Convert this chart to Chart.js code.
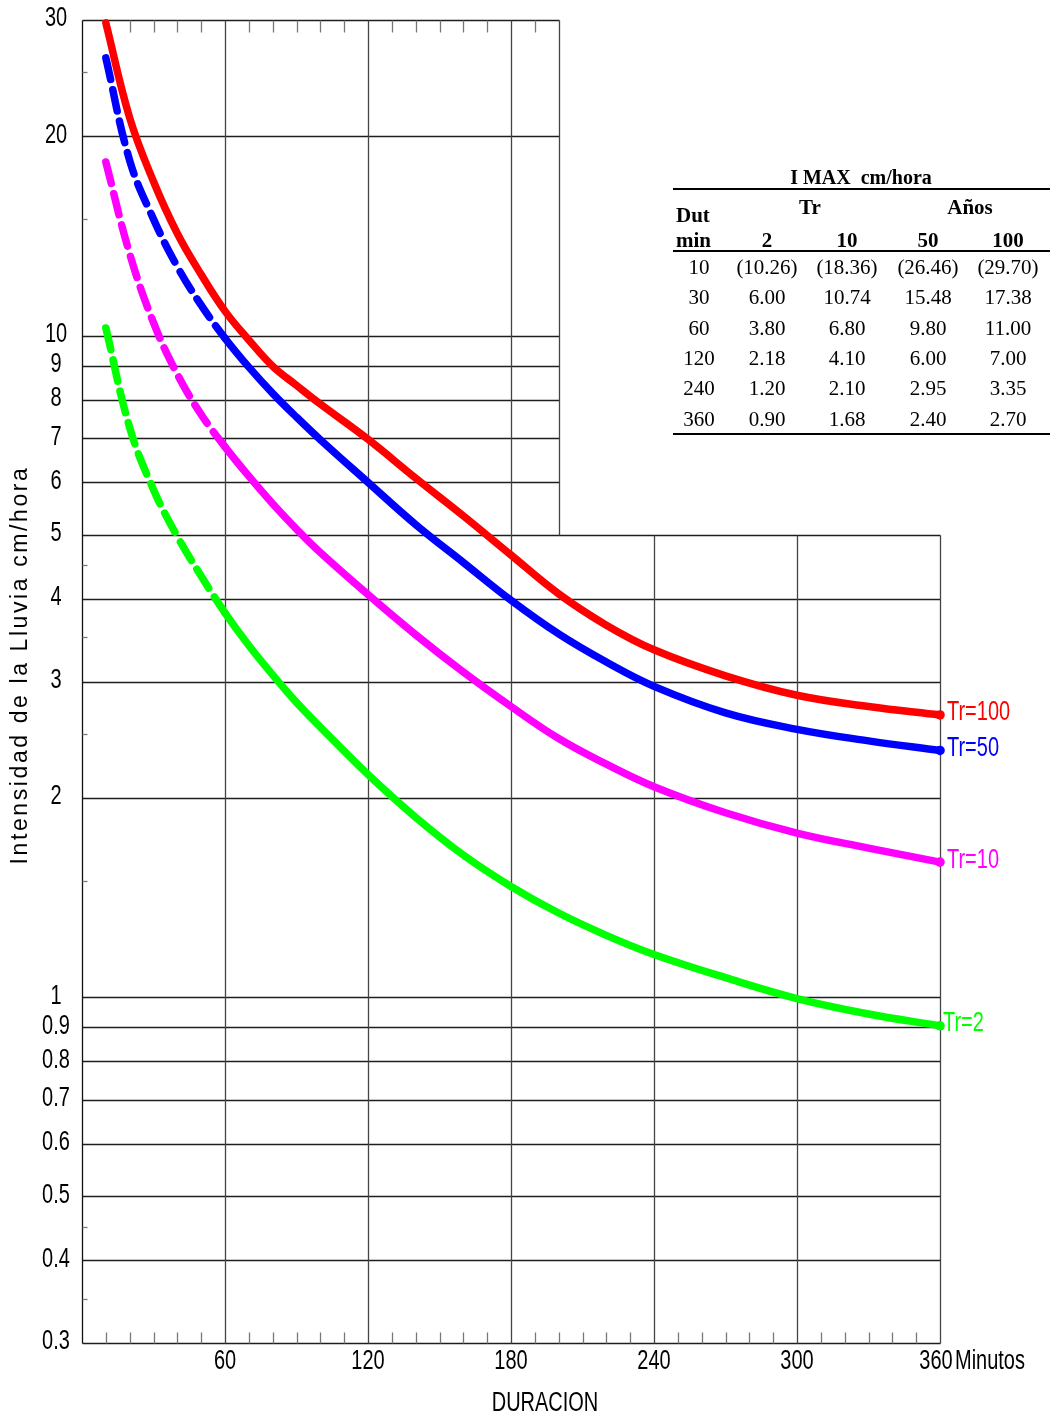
<!DOCTYPE html>
<html><head><meta charset="utf-8">
<script src="https://cdn.jsdelivr.net/npm/chart.js@4/dist/chart.umd.min.js"></script>
<style>
html,body{margin:0;padding:0;background:#fff;}
#wrap{position:relative;width:1050px;height:1418px;overflow:hidden;}
#c{position:absolute;left:0;top:0;}
.cell{position:absolute;font-family:"Liberation Serif","Times New Roman",serif;color:#000;font-size:21px;line-height:1;white-space:pre;transform:translate(-50%,-50%);}
.b{font-weight:bold;}
.left{transform:translate(0,-50%);}
.hline{position:absolute;left:673px;width:377px;height:2px;background:#000;}
</style></head>
<body><div id="wrap"><canvas id="c" width="1050" height="1418"></canvas><div id="tbl"></div></div>
<script>
// ---- data ----
const durations = [10,20,30,40,50,60,70,80,90,100,120,140,160,180,200,220,240,270,300,330,360];
const tr100 = [29.7,21.35,17.1,14.27,12.37,10.89,9.85,8.99,8.41,7.88,6.97,6.09,5.34,4.66,4.07,3.65,3.35,3.06,2.86,2.75,2.67];
const tr50  = [26.3,18.4,15.0,12.71,11.12,9.91,8.96,8.18,7.53,6.96,6.0,5.18,4.54,3.98,3.54,3.21,2.95,2.69,2.54,2.44,2.36];
const tr10  = [18.3,13.3,10.46,8.74,7.60,6.79,6.13,5.57,5.10,4.70,4.06,3.53,3.10,2.75,2.46,2.25,2.08,1.90,1.77,1.68,1.60];
const tr2   = [10.27,7.26,5.85,4.97,4.33,3.81,3.40,3.07,2.79,2.56,2.17,1.87,1.64,1.47,1.34,1.24,1.16,1.07,0.995,0.943,0.905];
const seriesLabels = ['Tr=100','Tr=50','Tr=10','Tr=2'];

const xTickValues = [0,60,120,180,240,300,360];
const xTickLabels = ['','60','120','180','240','300','360'];
const xMinorTicks = [10,20,30,40,50,70,80,90,100,110,130,140,150,160,170,190,200,210,220,230,250,260,270,280,290,310,320,330,340,350];
const yTickValues = [0.3,0.4,0.5,0.6,0.7,0.8,0.9,1,2,3,4,5,6,7,8,9,10,20,30];
const yTickLabels = ['0.3','0.4','0.5','0.6','0.7','0.8','0.9','1','2','3','4','5','6','7','8','9','10','20','30'];
const yMinorTicks = [0.35,0.45,1.5,2.5,3.5,4.5,15,25];
const dashedUpTo = 60;

// table
const tableTitle = 'I MAX  cm/hora';
const tableHeadTop = ['Tr','Años'];
const tableHeadDur = ['Dut','min'];
const tableHeadTr = ['2','10','50','100'];
const tableDur = ['10','30','60','120','240','360'];
const tableTr2 = ['(10.26)','6.00','3.80','2.18','1.20','0.90'];
const tableTr10 = ['(18.36)','10.74','6.80','4.10','2.10','1.68'];
const tableTr50 = ['(26.46)','15.48','9.80','6.00','2.95','2.40'];
const tableTr100 = ['(29.70)','17.38','11.00','7.00','3.35','2.70'];

// ---- table DOM ----
(function(){
  const t = document.getElementById('tbl');
  function cell(txt, x, y, cls, size){
    const d = document.createElement('div');
    d.className = 'cell ' + (cls||'');
    d.textContent = txt; d.style.left = x+'px'; d.style.top = y+'px';
    if (size) d.style.fontSize = size+'px';
    t.appendChild(d);
  }
  function hl(y){ const d=document.createElement('div'); d.className='hline'; d.style.top=y+'px'; t.appendChild(d); }
  const colX = [699,767,847,928,1008];
  cell(tableTitle, 861, 177, 'b', 20);
  hl(188);
  cell(tableHeadTop[0], 810, 207, 'b');
  cell(tableHeadTop[1], 970, 207, 'b');
  cell(tableHeadDur[0], 676, 215, 'b left');
  cell(tableHeadDur[1], 676, 240, 'b left');
  tableHeadTr.forEach((s,i)=>cell(s, colX[i+1], 240, 'b'));
  hl(250);
  const cols = [tableDur, tableTr2, tableTr10, tableTr50, tableTr100];
  for (let r=0;r<tableDur.length;r++){
    const y = 267 + r*30.3;
    cols.forEach((c,i)=>cell(c[r], colX[i], y));
  }
  hl(433);
})();

// ---- chart ----
const SANS = '"Liberation Sans", Arial, sans-serif';
const NARROW_SCALE = 0.74;
const colors = ['#ff0000','#0000ff','#ff00ff','#00ff00'];
const seriesData = [tr100, tr50, tr10, tr2];

function narrowText(c, txt, x, y, align, color, size){
  c.save();
  c.translate(x, y);
  c.scale(NARROW_SCALE, 1);
  c.font = (size||27) + 'px ' + SANS;
  c.fillStyle = color || '#000';
  c.textAlign = align || 'center';
  c.textBaseline = 'middle';
  c.fillText(txt, 0, 0);
  c.restore();
}

function mkDataset(vals, i){
  const pts = durations.map((d,k)=>({x:d, y:vals[k]}));
  const dashed = i !== 0;
  return {
    label: seriesLabels[i],
    data: pts,
    borderColor: colors[i],
    backgroundColor: colors[i],
    borderWidth: 7.5,
    borderCapStyle: 'round',
    borderJoinStyle: 'round',
    tension: 0.4,
    pointRadius: ctx => ctx.dataIndex === pts.length-1 ? 4.8 : 0,
    pointBorderWidth: 0,
    pointBackgroundColor: colors[i],
    clip: false,
    segment: {
      borderDash: ctx => (dashed && ctx.p1.parsed.x <= dashedUpTo) ? [22, 10.5] : undefined
    }
  };
}

const gridPlugin = {
  id: 'customGrid',
  beforeDatasetsDraw(chart){
    const c = chart.ctx, xs = chart.scales.x, ys = chart.scales.y;
    const X = v => Math.round(xs.getPixelForValue(v)) + 0.5;
    const Y = v => Math.round(ys.getPixelForValue(v)) + 0.5;
    const upperMaxX = 200, upperMinY = 5;
    c.save();
    function ln(x1,y1,x2,y2,col,w){ c.beginPath(); c.strokeStyle=col; c.lineWidth=w; c.moveTo(x1,y1); c.lineTo(x2,y2); c.stroke(); }
    const hcol = '#1e1e1e', vcol = '#444';
    yTickValues.forEach(v=>{
      const xEnd = v > upperMinY ? upperMaxX : 360;
      ln(X(0), Y(v), X(xEnd), Y(v), hcol, 1.3);
    });
    xTickValues.forEach(v=>{
      const yTop = v > upperMaxX ? upperMinY : 30;
      ln(X(v), Y(0.3), X(v), Y(yTop), v===0 ? '#111' : vcol, 1.3);
    });
    ln(X(upperMaxX), Y(upperMinY), X(upperMaxX), Y(30), vcol, 1.3);
    xMinorTicks.forEach(v=>{
      ln(X(v), Y(0.3), X(v), Y(0.3)-11, '#777', 1.3);
      if (v < upperMaxX) ln(X(v), Y(30), X(v), Y(30)+12, '#777', 1.3);
    });
    yMinorTicks.forEach(v=>{
      ln(X(0), Y(v), X(0)+5, Y(v), '#777', 1.3);
    });
    c.restore();
  }
};

const textPlugin = {
  id: 'texts',
  afterDraw(chart){
    const c = chart.ctx, xs = chart.scales.x, ys = chart.scales.y;
    xs.ticks.forEach(t=>{
      const i = xTickValues.indexOf(t.value);
      if (i >= 0 && xTickLabels[i]) narrowText(c, xTickLabels[i], xs.getPixelForValue(t.value) - (t.value===360?4:0), 1362, 'center');
    });
    ys.ticks.forEach(t=>{
      const i = yTickValues.indexOf(t.value);
      if (i >= 0) narrowText(c, yTickLabels[i], 56, ys.getPixelForValue(t.value) - 1, 'center');
    });
    c.save();
    c.translate(21, 665);
    c.rotate(-Math.PI/2);
    c.font = '23px ' + SANS;
    try { c.letterSpacing = '2.6px'; } catch(e){}
    c.fillStyle = '#000'; c.textAlign = 'center'; c.textBaseline = 'middle';
    c.fillText('Intensidad de la Lluvia cm/hora', 0, 0);
    c.restore();
    narrowText(c, 'Minutos', xs.getPixelForValue(360) + 15, 1362, 'left');
    narrowText(c, 'DURACION', 545, 1404, 'center');
    chart.data.datasets.forEach((ds, i)=>{
      const meta = chart.getDatasetMeta(i);
      const last = meta.data[meta.data.length-1];
      narrowText(c, seriesLabels[i], last.x + (i===3 ? 3 : 7), last.y - 2, 'left', colors[i]);
    });
  }
};

new Chart(document.getElementById('c'), {
  type: 'line',
  data: { datasets: seriesData.map(mkDataset) },
  options: {
    responsive: false,
    animation: false,
    layout: { padding: { left: 0, right: 110, top: 20, bottom: 0 } },
    plugins: { legend: { display: false }, tooltip: { enabled: false } },
    scales: {
      x: {
        type: 'linear', min: 0, max: 360, position: 'bottom',
        grid: { display: false, drawTicks: false }, border: { display: false },
        afterBuildTicks: s => { s.ticks = xTickValues.map(v => ({ value: v })); },
        afterFit: s => { s.height = 75; },
        ticks: { display: false, autoSkip: false }
      },
      y: {
        type: 'logarithmic', min: 0.3, max: 30,
        grid: { display: false, drawTicks: false }, border: { display: false },
        afterBuildTicks: s => { s.ticks = yTickValues.map(v => ({ value: v })); },
        afterFit: s => { s.width = 82; },
        ticks: { display: false, autoSkip: false }
      }
    }
  },
  plugins: [gridPlugin, textPlugin]
});
</script>
</body></html>
